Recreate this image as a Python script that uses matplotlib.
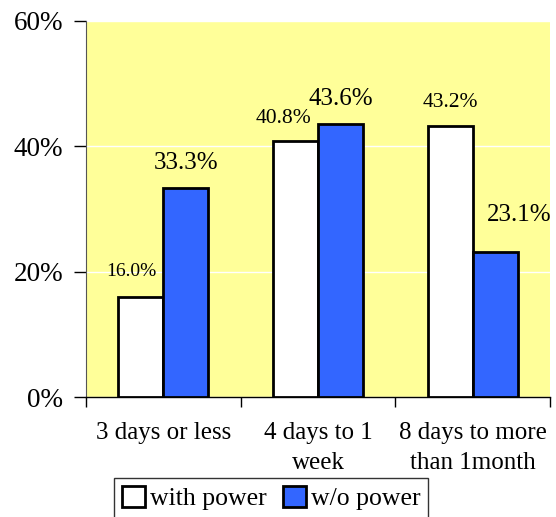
import numpy as np
import matplotlib.pyplot as plt
from matplotlib.ticker import FixedLocator

categories = ['3 days or less', '4 days to 1\nweek', '8 days to more\nthan 1month']
with_power = [16.0, 40.8, 43.2]
wo_power = [33.3, 43.6, 23.1]
yticks = [0, 20, 40, 60]

plt.rcParams['font.family'] = ['Liberation Serif', 'DejaVu Serif']

fig = plt.figure(figsize=(5.56, 5.17), dpi=100)
ax = fig.add_axes([0.1547, 0.232, 0.8345, 0.728])
ax.set_facecolor('#FFFF99')

x = np.arange(len(categories))
w = 0.29
b1 = ax.bar(x - w / 2, with_power, w, color='white', edgecolor='black', linewidth=2, label='with power', zorder=3)
b2 = ax.bar(x + w / 2, wo_power, w, color='#3366FF', edgecolor='black', linewidth=2, label='w/o power', zorder=3)

# смещения подписей (в пикселях) как в оригинале
off1 = [(-10, 25), (-12, 23), (0, 24)]
off2 = [(0, 25), (0, 25), (24, 37)]
fs1 = [14, 15.5, 15.5]
for i in range(len(categories)):
    ax.annotate('%.1f%%' % with_power[i], (x[i] - w / 2, with_power[i]),
                xytext=off1[i], textcoords='offset pixels', ha='center', va='center',
                fontsize=fs1[i], zorder=4)
    ax.annotate('%.1f%%' % wo_power[i], (x[i] + w / 2, wo_power[i]),
                xytext=off2[i], textcoords='offset pixels', ha='center', va='center',
                fontsize=18, zorder=4)

ax.set_xlim(-0.5, 2.5)
ax.set_ylim(0, 60)
ax.set_yticks(yticks)
ax.set_yticklabels(['%d%%' % t for t in yticks], fontsize=19.5)
ax.yaxis.grid(True, color='white', linewidth=1, zorder=1)

ax.set_xticks(x)
ax.set_xticklabels(categories, fontsize=18, linespacing=1.45)
ax.tick_params(axis='x', which='major', length=0, pad=18)
ax.xaxis.set_minor_locator(FixedLocator([-0.5, 0.5, 1.5, 2.5]))
ax.tick_params(axis='x', which='minor', length=7, width=1)
ax.tick_params(axis='y', length=9, width=1, pad=7.5)

ax.spines['top'].set_visible(False)
ax.spines['right'].set_visible(False)
ax.spines['left'].set_color('#555555')
ax.spines['bottom'].set_linewidth(1)

leg = fig.legend(loc='upper center', bbox_to_anchor=(0.488, 1 - 478 / 517), ncol=2, fontsize=18.5,
                 frameon=True, fancybox=False, edgecolor='black', handlelength=0.9,
                 handleheight=0.9, handletextpad=0.2, columnspacing=0.6, borderpad=0.3,
                 borderaxespad=0)
leg.get_frame().set_linewidth(1)

plt.savefig('out.png', dpi=100)
